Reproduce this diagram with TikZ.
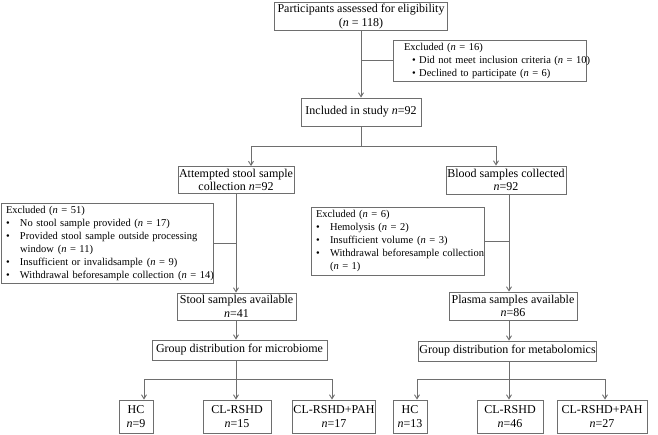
\documentclass[tikz,border=0pt]{standalone}
\usepackage{fontspec}
\setmainfont{Liberation Serif}
\usetikzlibrary{arrows.meta,positioning,calc}
\definecolor{edge}{RGB}{110,110,110}
\newcommand{\nn}{\textit{n}}
\newcommand{\bul}{\makebox[14pt][l]{\textbullet}}
\newcommand{\gap}{\hspace{4pt}}

\begin{document}
\begin{tikzpicture}[
      x=1pt,y=-1pt,
      box/.style={draw=edge,line width=0.9pt,align=center,inner xsep=1pt,
        inner ysep=0pt,minimum height=27pt,font=\fontsize{12}{13.5}\selectfont},
      exbox/.style={draw=edge,line width=0.9pt,align=left,inner xsep=5pt,
        inner ysep=1pt,font=\fontsize{10.5}{13}\selectfont},
      arr/.style={-{Straight Barb[length=4pt,width=5pt]},edge,line width=0.9pt},
      ln/.style={edge,line width=0.9pt}
    ]
      \useasboundingbox (0,0) rectangle (658,434);
      \coordinate (colL) at (236,0);
      \coordinate (colR) at (509,0);

      % enrolment
      \node[box,minimum width=173pt,minimum height=28pt] (elig) at (361,16.5)
        {Participants assessed for eligibility\\(\nn{} = 118)};
      \node[exbox,text width=183pt,minimum height=41pt] (excl1) at (489.5,60.5)
        {\mbox{\hspace*{6pt}Excluded (\nn{} = 16)}\\
         \mbox{\hspace*{14pt}\textbullet\ Did not meet inclusion criteria (\nn{} = 10)}\\
         \mbox{\hspace*{14pt}\textbullet\ Declined to participate (\nn{} = 6)}};
      \node[box,minimum width=120pt,minimum height=28pt] (incl) at (361,112)
        {Included in study \nn{}=92};

      % two arms
      \node[box,minimum width=116pt] (stool) at (236,180)
        {Attempted stool sample\\collection \nn{}=92};
      \node[box,minimum width=120pt,minimum height=28pt] (blood) at (506,180)
        {Blood samples collected\\\nn{}=92};
      \node[exbox,text width=202pt,minimum height=80pt] (excl2) at (107,243)
        {\mbox{Excluded (\nn{} = 51)}\\
         \mbox{\bul No stool sample provided (\nn{} = 17)}\\
         \mbox{\bul Provided stool sample outside processing}\\
         \mbox{\hspace*{14pt}window\gap(\nn{} = 11)}\\
         \mbox{\bul Insufficient or invalidsample\gap(\nn{} = 9)}\\
         \mbox{\bul Withdrawal beforesample collection\gap(\nn{} = 14)}};
      \node[exbox,text width=163pt,minimum height=68pt] (excl3) at (397.5,241)
        {\mbox{Excluded (\nn{} = 6)}\\
         \mbox{\bul Hemolysis (\nn{} = 2)}\\
         \mbox{\bul Insufficient volume\gap(\nn{} = 3)}\\
         \mbox{\bul Withdrawal beforesample collection}\\
         \mbox{\hspace*{14pt}(\nn{} = 1)}};
      \node[box,minimum width=119pt] (stoolav) at (236.5,306.5)
        {Stool samples available\\\nn{}=41};
      \node[box,minimum width=128pt,minimum height=28pt] (plasma) at (513,306)
        {Plasma samples available\\\nn{}=86};
      \node[box,minimum width=175pt,minimum height=20pt] (grpm) at (239.5,350)
        {Group distribution for microbiome};
      \node[box,minimum width=171pt,minimum height=20pt] (grpb) at (507.5,351)
        {Group distribution for metabolomics};

      % groups
      \node[box,minimum width=34pt,minimum height=33pt] (hcm) at (136,416.5)
        {HC\\\nn{}=9};
      \node[box,minimum width=68pt,minimum height=33pt] (rsm) at (237,416.5)
        {CL-RSHD\\\nn{}=15};
      \node[box,minimum width=82pt,minimum height=33pt] (pahm) at (334,416.5)
        {CL-RSHD+PAH\\\nn{}=17};
      \node[box,minimum width=34pt,minimum height=33pt] (hcb) at (410,416.5)
        {HC\\\nn{}=13};
      \node[box,minimum width=66pt,minimum height=33pt] (rsb) at (510,416.5)
        {CL-RSHD\\\nn{}=46};
      \node[box,minimum width=90pt,minimum height=33pt] (pahb) at (602,416.5)
        {CL-RSHD+PAH\\\nn{}=27};

      \draw[arr](elig.south)--(elig.south |- incl.north);
      \draw[ln](elig.south |- excl1.west)--(excl1.west);
      \draw[ln](incl.south)--++(0,20) coordinate (split);
      \draw[arr](split)-|([xshift=15pt]stool.north);
      \draw[arr](split)-|([xshift=-10pt]blood.north);

      \draw[arr](stool.south -| colL)--(stoolav.north -| colL);
      \draw[ln](excl2.east)--(excl2.east -| colL);
      \draw[arr](stoolav.south -| colL)--(grpm.north -| colL);
      \draw[ln](grpm.south -| colL)--++(0,19) coordinate (busL);
      \draw[arr](busL)-|([xshift=8pt]hcm.north);
      \draw[arr](busL)--(rsm.north -| busL);
      \draw[arr](busL)-|([xshift=-2pt]pahm.north);

      \draw[arr](blood.south -| colR)--(plasma.north -| colR);
      \draw[ln](excl3.east)--(excl3.east -| colR);
      \draw[arr](plasma.south -| colR)--(grpb.north -| colR);
      \draw[ln](grpb.south -| colR)--++(0,18) coordinate (busR);
      \draw[arr](busR)-|([xshift=7pt]hcb.north);
      \draw[arr](busR)--(rsb.north -| busR);
      \draw[arr](busR)-|([xshift=3pt]pahb.north);
    \end{tikzpicture}
\end{document}
